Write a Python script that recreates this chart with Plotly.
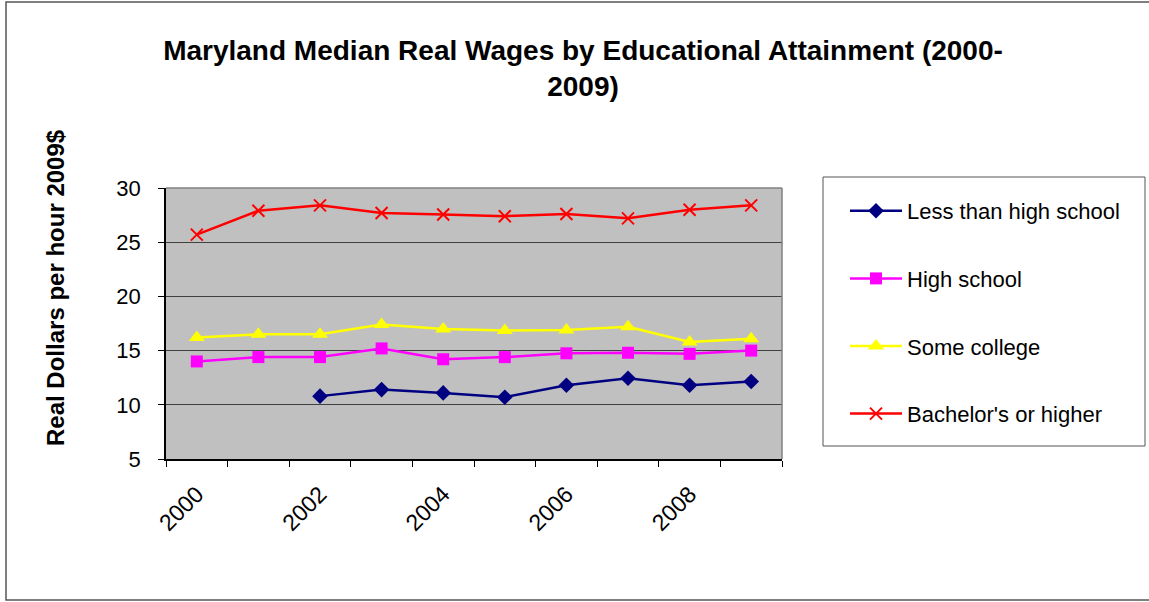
import plotly.graph_objects as go

years = list(range(2000, 2010))
less_than_hs = [None, None, 10.8, 11.4, 11.1, 10.7, 11.8, 12.45, 11.8, 12.15]
high_school = [14.0, 14.4, 14.4, 15.2, 14.2, 14.4, 14.75, 14.8, 14.7, 15.0]
some_college = [16.2, 16.5, 16.5, 17.4, 17.0, 16.85, 16.9, 17.2, 15.8, 16.1]
bachelors = [25.7, 27.9, 28.4, 27.7, 27.55, 27.4, 27.6, 27.2, 28.0, 28.4]
tick_years = [2000, 2002, 2004, 2006, 2008]

series = [
    ("Less than high school", less_than_hs, "#000080", "diamond", 12),
    ("High school", high_school, "#FF00FF", "square", 12),
    ("Some college", some_college, "#FFFF00", "triangle-up", 14),
    ("Bachelor's or higher", bachelors, "#FF0000", "x-thin", 12),
]

fig = go.Figure()
for i, (name, vals, color, sym, size) in enumerate(series):
    marker = dict(symbol=sym, size=size, color=color)
    if sym == "x-thin":
        marker["line"] = dict(color=color, width=2)
    fig.add_trace(go.Scatter(
        x=years, y=vals, name=name, mode="lines+markers",
        line=dict(color=color, width=2.5), marker=marker,
        legendgroup=f"g{i}", connectgaps=False,
    ))

# plot area spans x 166..782, y 188..459 in pixels
L, R, T, B = 166, 782, 188, 459
W, H = 1149, 602
def px(x):
    return (x - L) / (R - L)
def py(y):
    return (B - y) / (B - T)

shapes = [
    # outer chart frame
    dict(type="rect", xref="paper", yref="paper", x0=px(6), x1=px(1155), y0=py(600), y1=py(2),
         line=dict(color="#555555", width=1.5), fillcolor="rgba(0,0,0,0)", layer="below"),
    # legend frame
    dict(type="rect", xref="paper", yref="paper", x0=px(823), x1=px(1145), y0=py(446), y1=py(177),
         line=dict(color="#555555", width=1), fillcolor="rgba(0,0,0,0)"),
    # plot area top/right border
    dict(type="line", xref="paper", yref="paper", x0=0, x1=1, y0=1, y1=1,
         line=dict(color="#808080", width=1.5)),
    dict(type="line", xref="paper", yref="paper", x0=1, x1=1, y0=0, y1=1,
         line=dict(color="#808080", width=1.5)),
]

# y-axis title, placed as a rotated annotation
annotations = [
    dict(text="<b>Real Dollars per hour 2009$</b>", textangle=-90,
         xref="paper", yref="paper", x=px(55), y=py(288),
         xanchor="center", yanchor="middle", showarrow=False,
         font=dict(size=24, family="Liberation Sans, Arial, sans-serif")),
]

fig.update_layout(
    width=W, height=H,
    margin=dict(l=L, r=W - R, t=T, b=H - B, pad=0),
    paper_bgcolor="white", plot_bgcolor="#C0C0C0",
    font=dict(family="Liberation Sans, Arial, sans-serif", color="black", size=22),
    title=dict(
        text="<b>Maryland Median Real Wages by Educational Attainment (2000-<br>2009)</b>",
        x=583 / W, xanchor="center", y=1 - 60 / H, yanchor="top",
        font=dict(size=28, family="Liberation Sans, Arial, sans-serif"),
    ),
    xaxis=dict(
        range=[1999.5, 2009.5], tickmode="array", tickvals=tick_years,
        ticktext=[str(y) for y in tick_years], tickangle=-45, ticks="",
        showgrid=False, zeroline=False, showline=True, linecolor="black", linewidth=1.5,
        tickfont=dict(size=23), ticklabelstandoff=11,
        minor=dict(tickmode="array", tickvals=[y - 0.5 for y in years] + [2009.5],
                   ticks="outside", ticklen=6, tickcolor="black", showgrid=False),
    ),
    yaxis=dict(
        range=[5, 30], tickmode="linear", tick0=5, dtick=5,
        ticks="outside", ticklen=6, tickcolor="black",
        showgrid=True, gridcolor="#404040", gridwidth=1, zeroline=False,
        showline=True, linecolor="black", linewidth=1.5,
        tickfont=dict(size=22), ticklabelstandoff=13,
    ),
    legend=dict(
        x=px(845), y=py(190), xanchor="left", yanchor="top",
        bgcolor="rgba(0,0,0,0)", borderwidth=0, tracegroupgap=36,
        itemwidth=52, font=dict(size=22),
    ),
    shapes=shapes,
    annotations=annotations,
)

fig.write_html("out.html")
